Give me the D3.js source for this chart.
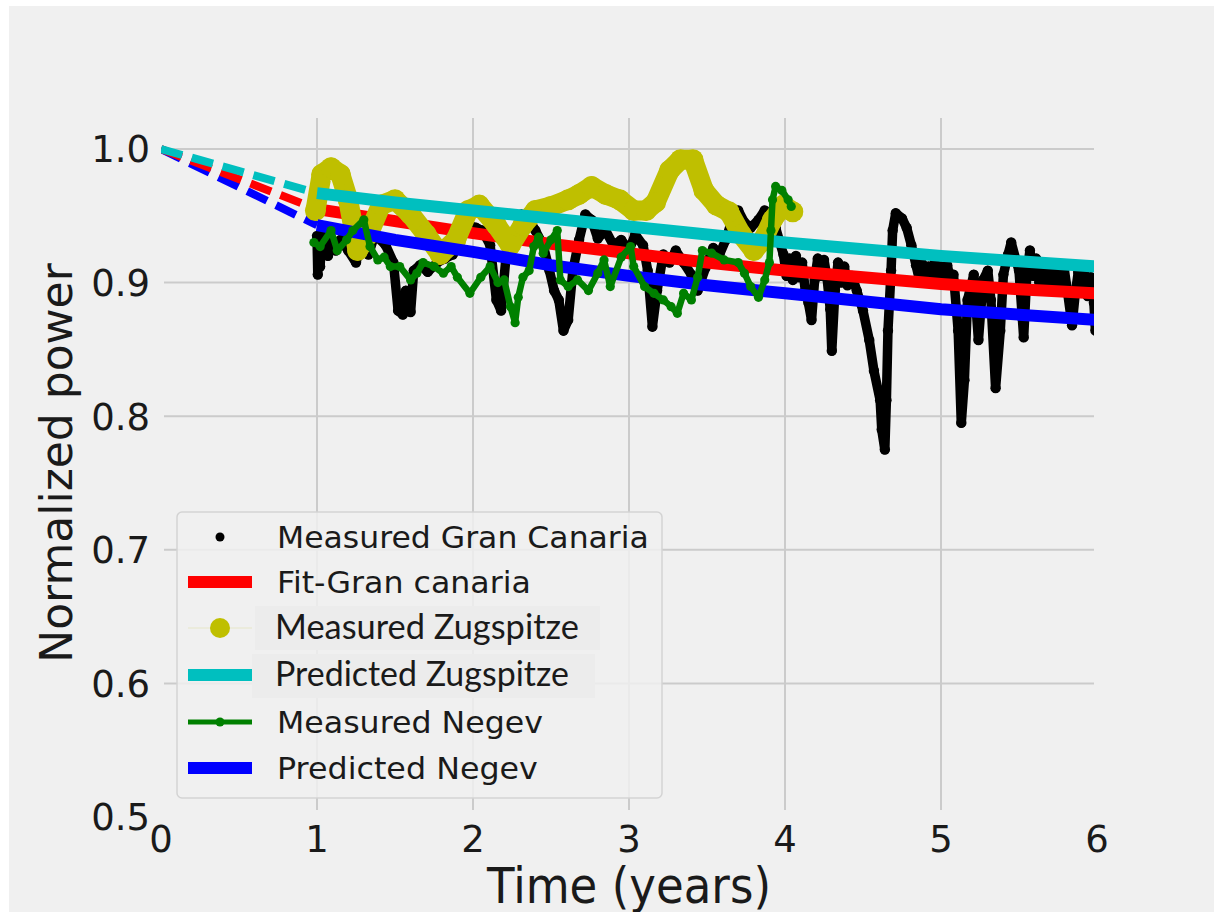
<!DOCTYPE html>
<html><head><meta charset="utf-8">
<script src="https://cdn.jsdelivr.net/npm/d3@7"></script>
<style>body{margin:0;background:#fff}</style>
</head><body><svg id="c" width="1214" height="912"></svg>
<script>
// ---------- data ----------
const xTicks = [0, 1, 2, 3, 4, 5, 6];
const xTickLabels = ["0", "1", "2", "3", "4", "5", "6"];
const yTicks = [0.5, 0.6, 0.7, 0.8, 0.9, 1.0];
const yTickLabels = ["0.5", "0.6", "0.7", "0.8", "0.9", "1.0"];

// model curves (solid part, t = 1..6)
const fitT      = [1, 1.5, 2, 2.5, 3, 3.5, 4, 4.5, 5, 5.5, 6];
const fitGC     = [0.955, 0.946, 0.937, 0.929, 0.922, 0.915, 0.909, 0.904, 0.899, 0.895, 0.892];
const predZug   = [0.967, 0.960, 0.954, 0.948, 0.942, 0.936, 0.930, 0.925, 0.920, 0.916, 0.912];
const predNeg   = [0.943, 0.932, 0.923, 0.913, 0.905, 0.898, 0.892, 0.886, 0.880, 0.876, 0.872];
// extrapolated (dashed) part, t = 0..1
const extT      = [0, 1];
const extGC     = [1.0, 0.955];
const extZug    = [1.0, 0.967];
const extNeg    = [1.0, 0.943];

// measured Gran Canaria [t, power]
const measGC = [[1.00,0.935],[1.005,0.906],[1.01,0.930],[1.02,0.912],[1.03,0.936],[1.05,0.938],[1.07,0.920],[1.09,0.930],[1.12,0.924],[1.15,0.932],[1.20,0.924],[1.25,0.915],[1.28,0.928],[1.33,0.921],[1.37,0.936],[1.44,0.928],[1.49,0.915],[1.52,0.879],[1.55,0.876],[1.57,0.894],[1.60,0.878],[1.62,0.909],[1.66,0.913],[1.71,0.908],[1.77,0.915],[1.82,0.918],[1.87,0.921],[1.91,0.928],[1.94,0.954],[1.97,0.943],[2.02,0.941],[2.06,0.939],[2.11,0.928],[2.15,0.887],[2.18,0.879],[2.21,0.917],[2.25,0.928],[2.31,0.951],[2.36,0.947],[2.40,0.939],[2.45,0.928],[2.49,0.909],[2.52,0.894],[2.55,0.887],[2.58,0.864],[2.61,0.872],[2.64,0.909],[2.68,0.932],[2.72,0.951],[2.76,0.947],[2.80,0.933],[2.85,0.939],[2.90,0.928],[2.95,0.932],[3.00,0.924],[3.04,0.936],[3.09,0.928],[3.12,0.909],[3.15,0.867],[3.18,0.894],[3.22,0.921],[3.26,0.915],[3.30,0.924],[3.35,0.915],[3.40,0.906],[3.44,0.894],[3.49,0.911],[3.54,0.926],[3.58,0.921],[3.62,0.932],[3.65,0.943],[3.70,0.954],[3.74,0.945],[3.78,0.941],[3.83,0.947],[3.87,0.954],[3.90,0.945],[3.94,0.941],[3.99,0.921],[4.01,0.905],[4.03,0.918],[4.05,0.902],[4.07,0.920],[4.09,0.904],[4.11,0.915],[4.13,0.894],[4.15,0.885],[4.17,0.872],[4.19,0.902],[4.21,0.918],[4.23,0.905],[4.25,0.917],[4.27,0.903],[4.29,0.880],[4.30,0.849],[4.32,0.894],[4.34,0.915],[4.36,0.900],[4.38,0.912],[4.40,0.898],[4.43,0.905],[4.46,0.894],[4.50,0.879],[4.54,0.857],[4.57,0.834],[4.61,0.812],[4.62,0.790],[4.64,0.775],[4.65,0.812],[4.66,0.864],[4.68,0.909],[4.69,0.939],[4.71,0.952],[4.75,0.948],[4.78,0.941],[4.81,0.928],[4.84,0.913],[4.86,0.903],[4.88,0.914],[4.90,0.902],[4.92,0.912],[4.94,0.903],[4.96,0.915],[4.98,0.904],[5.00,0.912],[5.02,0.902],[5.04,0.913],[5.06,0.903],[5.08,0.906],[5.11,0.864],[5.13,0.795],[5.15,0.827],[5.17,0.887],[5.21,0.906],[5.24,0.857],[5.27,0.902],[5.30,0.909],[5.32,0.887],[5.35,0.821],[5.38,0.864],[5.40,0.906],[5.43,0.921],[5.45,0.930],[5.48,0.917],[5.50,0.909],[5.53,0.859],[5.55,0.906],[5.57,0.924],[5.59,0.905],[5.61,0.918],[5.63,0.900],[5.66,0.913],[5.68,0.896],[5.70,0.910],[5.72,0.895],[5.74,0.912],[5.77,0.900],[5.79,0.910],[5.81,0.894],[5.84,0.868],[5.86,0.891],[5.88,0.908],[5.90,0.893],[5.92,0.906],[5.94,0.890],[5.96,0.904],[5.98,0.885],[5.99,0.864]];

// measured Zugspitze [t, power]
const measZug = [[0.99,0.954],[1.03,0.981],[1.09,0.986],[1.15,0.981],[1.20,0.962],[1.26,0.924],[1.33,0.936],[1.41,0.958],[1.50,0.962],[1.60,0.951],[1.70,0.936],[1.79,0.921],[1.89,0.932],[1.97,0.954],[2.04,0.958],[2.15,0.943],[2.24,0.928],[2.32,0.943],[2.40,0.954],[2.50,0.957],[2.61,0.962],[2.68,0.966],[2.76,0.972],[2.85,0.966],[2.94,0.962],[3.03,0.954],[3.11,0.954],[3.17,0.960],[3.26,0.984],[3.33,0.992],[3.41,0.992],[3.48,0.969],[3.56,0.958],[3.64,0.953],[3.72,0.936],[3.80,0.924],[3.86,0.932],[3.92,0.947],[3.99,0.958],[4.05,0.953]];

// measured Negev [t, power]
const measNeg = [[0.98,0.930],[1.02,0.927],[1.09,0.939],[1.13,0.924],[1.19,0.932],[1.23,0.939],[1.30,0.947],[1.34,0.927],[1.39,0.917],[1.43,0.919],[1.47,0.912],[1.53,0.912],[1.60,0.902],[1.64,0.907],[1.68,0.915],[1.75,0.912],[1.81,0.907],[1.86,0.912],[1.90,0.904],[1.98,0.892],[2.05,0.904],[2.11,0.912],[2.16,0.900],[2.20,0.902],[2.24,0.882],[2.27,0.870],[2.29,0.889],[2.32,0.904],[2.36,0.909],[2.39,0.927],[2.42,0.934],[2.45,0.922],[2.50,0.932],[2.54,0.939],[2.56,0.902],[2.61,0.897],[2.67,0.902],[2.74,0.894],[2.80,0.907],[2.84,0.917],[2.88,0.897],[2.95,0.919],[3.01,0.927],[3.03,0.912],[3.10,0.897],[3.16,0.892],[3.22,0.887],[3.27,0.882],[3.31,0.877],[3.35,0.892],[3.40,0.887],[3.44,0.904],[3.47,0.924],[3.53,0.922],[3.61,0.917],[3.70,0.915],[3.74,0.907],[3.78,0.897],[3.83,0.889],[3.87,0.902],[3.90,0.915],[3.91,0.939],[3.92,0.962],[3.94,0.972],[3.98,0.969],[4.02,0.962],[4.04,0.957]];

const legendLabels = ["Measured Gran Canaria", "Fit-Gran canaria", "Measured Zugspitze", "Predicted Zugspitze", "Measured Negev", "Predicted Negev"];
const colors = {black:"#000000", red:"#ff0000", yellow:"#bfbf00", cyan:"#00bfbf", green:"#008000", blue:"#0000ff"};

// ---------- drawing ----------
const svg = d3.select("#c");
const W = 1214, H = 912;
const plot = {left:161, right:1094, top:118, bottom:812};
const x = d3.scaleLinear().domain([0, 6]).range([161, 1097]);
const y = d3.scaleLinear().domain([0.5, 1.0]).range([817, 149]);

svg.append("rect").attr("x", 0).attr("y", 0).attr("width", W).attr("height", H).attr("fill", "#ffffff");
svg.append("rect").attr("x", 9).attr("y", 6).attr("width", W - 9).attr("height", H - 6).attr("fill", "#f0f0f0");

svg.append("defs").append("clipPath").attr("id", "clip")
  .append("rect").attr("x", plot.left).attr("y", plot.top)
  .attr("width", plot.right - plot.left).attr("height", plot.bottom - plot.top);

// grid
const grid = svg.append("g");
grid.selectAll(".vg").data(xTicks.filter(d => d > 0 && d < 6)).join("line")
  .attr("x1", d => x(d)).attr("x2", d => x(d))
  .attr("y1", plot.top).attr("y2", plot.bottom - 2)
  .attr("stroke", "#cbcbcb").attr("stroke-width", 2);
grid.selectAll(".hg").data(yTicks.filter(d => d > 0.5)).join("line")
  .attr("x1", plot.left + 3).attr("x2", plot.right)
  .attr("y1", d => y(d)).attr("y2", d => y(d))
  .attr("stroke", "#cbcbcb").attr("stroke-width", 2);

// tick labels
const tickFont = "'DejaVu Sans', sans-serif";
svg.append("g").selectAll("text").data(yTicks).join("text")
  .attr("x", 150).attr("y", d => y(d)).attr("dy", "0.36em")
  .attr("text-anchor", "end").attr("font-family", tickFont).attr("font-size", 37)
  .attr("fill", "#1a1a1a").text((d, i) => yTickLabels[i]);
svg.append("g").selectAll("text").data(xTicks).join("text")
  .attr("x", d => x(d)).attr("y", 852)
  .attr("text-anchor", "middle").attr("font-family", tickFont).attr("font-size", 37)
  .attr("fill", "#1a1a1a").text((d, i) => xTickLabels[i]);

function fitWidth(sel, target) {
  const n = sel.node();
  const w = n.getComputedTextLength();
  const s = target / w;
  const x0 = +sel.attr("x");
  sel.attr("transform", `translate(${x0 * (1 - s)},0) scale(${s},1)`);
}

// axis labels
const xl = svg.append("text").attr("x", 629).attr("y", 903)
  .attr("text-anchor", "middle").attr("font-family", tickFont).attr("font-size", 50)
  .attr("fill", "#1a1a1a").text("Time (years)");
fitWidth(xl, 284);
svg.append("text").attr("transform", "translate(72,463) rotate(-90)")
  .attr("text-anchor", "middle").attr("font-family", tickFont).attr("font-size", 44)
  .attr("fill", "#1a1a1a").text("Normalized power");

// series
const g = svg.append("g").attr("clip-path", "url(#clip)");
const lineXY = d3.line().x(d => x(d[0])).y(d => y(d[1]));
const zipT = (ts, vs) => ts.map((t, i) => [t, vs[i]]);

// dashed extrapolations
[[extNeg, colors.blue], [extGC, colors.red], [extZug, colors.cyan]].forEach(([vals, c]) => {
  g.append("path").attr("d", lineXY(zipT(extT, vals))).attr("fill", "none")
    .attr("stroke", c).attr("stroke-width", 8).attr("stroke-dasharray", "22,10");
});

// measured Gran Canaria
g.append("path").attr("d", lineXY(measGC)).attr("fill", "none")
  .attr("stroke", colors.black).attr("stroke-width", 9.5).attr("stroke-linejoin", "round");
g.append("g").selectAll("circle").data(measGC).join("circle")
  .attr("cx", d => x(d[0])).attr("cy", d => y(d[1])).attr("r", 5.2).attr("fill", colors.black);

// fit Gran Canaria
g.append("path").attr("d", lineXY(zipT(fitT, fitGC))).attr("fill", "none")
  .attr("stroke", colors.red).attr("stroke-width", 12);

// measured Zugspitze
g.append("path").attr("d", lineXY(measZug)).attr("fill", "none")
  .attr("stroke", colors.yellow).attr("stroke-width", 20)
  .attr("stroke-linejoin", "round").attr("stroke-linecap", "round");
g.append("g").selectAll("circle").data(measZug).join("circle")
  .attr("cx", d => x(d[0])).attr("cy", d => y(d[1])).attr("r", 10.5).attr("fill", colors.yellow);

// predicted Zugspitze
g.append("path").attr("d", lineXY(zipT(fitT, predZug))).attr("fill", "none")
  .attr("stroke", colors.cyan).attr("stroke-width", 12);

// predicted Negev
g.append("path").attr("d", lineXY(zipT(fitT, predNeg))).attr("fill", "none")
  .attr("stroke", colors.blue).attr("stroke-width", 12);

// measured Negev
g.append("path").attr("d", lineXY(measNeg)).attr("fill", "none")
  .attr("stroke", colors.green).attr("stroke-width", 6.5).attr("stroke-linejoin", "round");
g.append("g").selectAll("circle").data(measNeg).join("circle")
  .attr("cx", d => x(d[0])).attr("cy", d => y(d[1])).attr("r", 4.6).attr("fill", colors.green);

// ---------- legend ----------
const lg = svg.append("g");
lg.append("rect").attr("x", 177).attr("y", 512).attr("width", 485).attr("height", 286)
  .attr("rx", 5).attr("fill", "#f0f0f0").attr("fill-opacity", 0.85)
  .attr("stroke", "#d3d3d3").attr("stroke-width", 1.5);
const rowY = [537, 582, 628, 675, 722, 768];
const hx1 = 188, hx2 = 252, hxm = 220;
lg.append("circle").attr("cx", hxm).attr("cy", rowY[0]).attr("r", 4.5).attr("fill", colors.black);
lg.append("line").attr("x1", hx1).attr("x2", hx2).attr("y1", rowY[1]).attr("y2", rowY[1])
  .attr("stroke", colors.red).attr("stroke-width", 12);
lg.append("line").attr("x1", hx1).attr("x2", hx2).attr("y1", rowY[2]).attr("y2", rowY[2])
  .attr("stroke", "#e6e6c8").attr("stroke-width", 1);
lg.append("circle").attr("cx", hxm).attr("cy", rowY[2]).attr("r", 10).attr("fill", colors.yellow);
lg.append("line").attr("x1", hx1).attr("x2", hx2).attr("y1", rowY[3]).attr("y2", rowY[3])
  .attr("stroke", colors.cyan).attr("stroke-width", 12);
lg.append("line").attr("x1", hx1).attr("x2", hx2).attr("y1", rowY[4]).attr("y2", rowY[4])
  .attr("stroke", colors.green).attr("stroke-width", 5);
lg.append("circle").attr("cx", hxm).attr("cy", rowY[4]).attr("r", 4.5).attr("fill", colors.green);
lg.append("line").attr("x1", hx1).attr("x2", hx2).attr("y1", rowY[5]).attr("y2", rowY[5])
  .attr("stroke", colors.blue).attr("stroke-width", 12);

// pasted label patches for the Zugspitze rows
lg.append("rect").attr("x", 255).attr("y", 606).attr("width", 345).attr("height", 44).attr("fill", "#ececec");
lg.append("rect").attr("x", 252).attr("y", 654).attr("width", 343).attr("height", 44).attr("fill", "#ececec");

const textW = [372, 254, 304, 294, 266, 261];
legendLabels.forEach((lab, i) => {
  const zug = (i === 2 || i === 3);
  const t = lg.append("text").attr("x", zug ? 275 : 277).attr("y", rowY[i] + 11)
    .attr("font-family", zug ? "Lato, 'Open Sans', sans-serif" : tickFont)
    .attr("font-size", zug ? 34 : 31).attr("fill", "#1a1a1a").text(lab);
  fitWidth(t, textW[i]);
});
</script>
</body></html>
